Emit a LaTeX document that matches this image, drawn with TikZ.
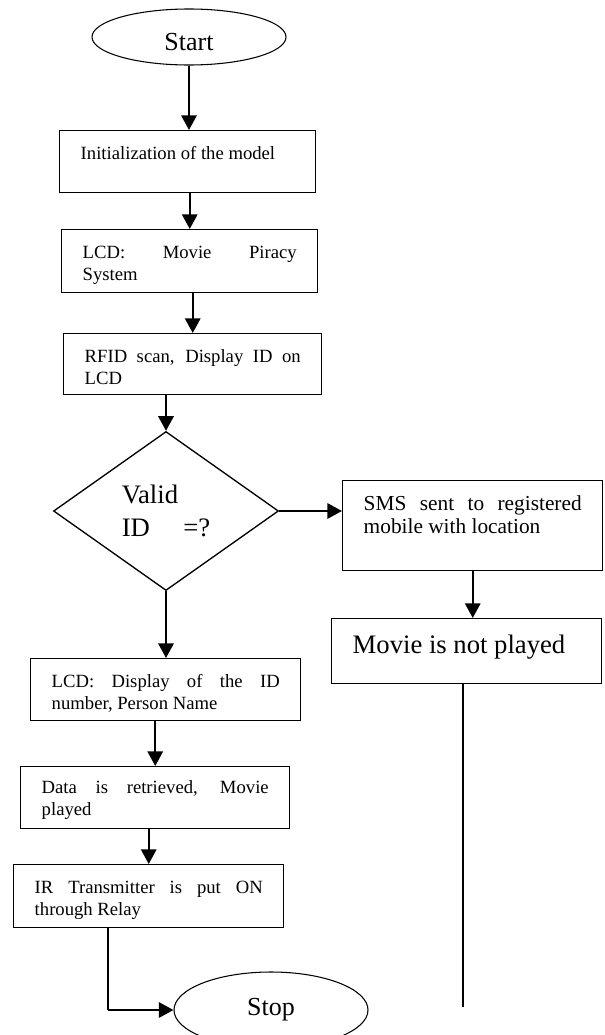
\documentclass[tikz,border=0pt]{standalone}
\usepackage{fontspec}
\setmainfont{Liberation Serif}
\usetikzlibrary{shapes.geometric,arrows.meta}

\tikzset{every picture/.style={line width=0.75pt}}
\tikzset{
  procbox/.style={draw, rectangle, line width=1.1pt, anchor=north west, inner xsep=15.75pt, inner ysep=0pt, align=justify, font=\fontsize{14}{16}\selectfont},
  termnode/.style={draw, ellipse, line width=0.8pt, minimum width=145.5pt, inner sep=0pt, font=\fontsize{19.5}{22}\selectfont},
  decision/.style={draw, diamond, line width=1pt, minimum width=168.75pt, minimum height=119.25pt, inner sep=0pt, align=left, font=\fontsize{20}{24.75}\selectfont},
  flowarrow/.style={line width=1.7pt, -{Triangle[length=11pt,width=11.5pt]}},
  flowline/.style={line width=1pt},
}

\begin{document}
\begin{tikzpicture}[x=0.75pt,y=0.75pt,yscale=-1,xscale=1]
\path[use as bounding box] (0,0) rectangle (605,1035); %set diagram 605 x 1035

%Shape: Ellipse [id:start]
\node[termnode, minimum height=42pt, text height=19.5pt, text depth=0pt] (start) at (189,37) {Start};
%Shape: Rectangle [id:init]
\node[procbox, text width=160.5pt, text height=21.75pt, text depth=24.75pt] (init) at (59,130) {Initialization of the model};
%Shape: Rectangle [id:lcd]
\node[procbox, text width=160.5pt, text height=21.75pt, text depth=25.5pt] (lcd) at (61,229) {LCD: Movie Piracy\linebreak System};
%Shape: Rectangle [id:rfid]
\node[procbox, text width=162pt, text height=21.75pt, text depth=24pt] (rfid) at (63,333) {RFID scan, Display ID on\linebreak LCD};
%Shape: Diamond [id:valid]
\node[decision] (valid) at (166,511) {Valid\\ID\hspace{25pt}=?};
%Shape: Rectangle [id:sms]
\node[procbox, text width=163.5pt, text height=22.5pt, text depth=45pt, font=\fontsize{16}{17.25}\selectfont] (sms) at (342,480) {SMS sent to registered\linebreak mobile with location};
%Shape: Rectangle [id:movie]
\node[procbox, text width=171pt, text height=26.25pt, text depth=22.5pt, font=\fontsize{20}{24}\selectfont] (movie) at (331,618) {Movie is not played};
%Shape: Rectangle [id:lcdid]
\node[procbox, text width=171pt, text height=21.75pt, text depth=24.75pt] (lcdid) at (30,658) {LCD: Display of the ID\linebreak number, Person Name};
%Shape: Rectangle [id:data]
\node[procbox, text width=170.25pt, text height=20.25pt, text depth=26.25pt] (data) at (20,766) {Data is retrieved, Movie\linebreak played};
%Shape: Rectangle [id:ir]
\node[procbox, text width=171pt, text height=21.75pt, text depth=25.5pt] (ir) at (13,864) {IR Transmitter is put ON\linebreak through Relay};
%Shape: Ellipse [id:stop]
\node[termnode, minimum height=57pt] (stop) at (271,1010) {Stop};

\coordinate (irturn) at (108,1010);
\coordinate (nplend) at (463,1007);

%Straight Lines
\draw[flowarrow] (start.south) -- (start.south |- init.north);
\draw[flowarrow] (init.south -| lcd.north) -- (lcd.north);
\draw[flowarrow] (lcd.south -| rfid.north) -- (rfid.north);
\draw[flowarrow] (rfid.south -| valid.north) -- (valid.north);
\draw[flowarrow] (valid.east) -- (valid.east -| sms.west);
\draw[flowarrow] (sms.south) -- (sms.south |- movie.north);
\draw[flowline] (movie.south -| nplend) -- (nplend);
\draw[flowarrow] (valid.south) -- (valid.south |- lcdid.north);
\draw[flowarrow] (lcdid.south -| data.north) -- (data.north);
\draw[flowarrow] (data.south -| ir.north) -- (ir.north);
\draw[flowline] (ir.south -| irturn) -- (irturn);
\draw[flowarrow] (irturn) -- (stop.west);

\end{tikzpicture}
\end{document}
